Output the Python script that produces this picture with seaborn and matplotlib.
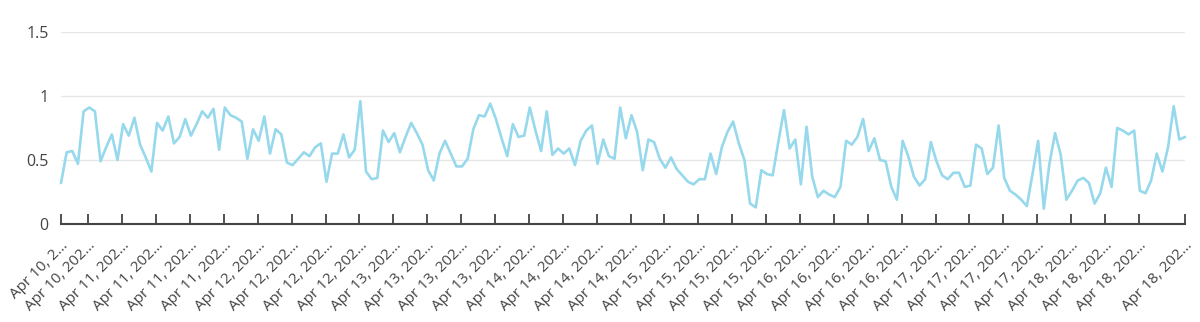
import matplotlib
matplotlib.use("Agg")
import matplotlib.pyplot as plt
import seaborn as sns
import pandas as pd

# hourly observations
start_time = "2024-04-10 13:10"
values = [
    0.32, 0.56, 0.57, 0.47, 0.88, 0.91, 0.88, 0.49, 0.60, 0.70,
    0.50, 0.78, 0.69, 0.83, 0.62, 0.52, 0.41, 0.79, 0.73, 0.84,
    0.63, 0.68, 0.82, 0.69, 0.78, 0.88, 0.83, 0.90, 0.58, 0.91,
    0.85, 0.83, 0.80, 0.51, 0.74, 0.65, 0.84, 0.55, 0.74, 0.70,
    0.48, 0.46, 0.51, 0.56, 0.53, 0.60, 0.63, 0.33, 0.55, 0.55,
    0.70, 0.52, 0.58, 0.96, 0.41, 0.35, 0.36, 0.73, 0.64, 0.71,
    0.56, 0.68, 0.79, 0.71, 0.62, 0.42, 0.34, 0.55, 0.65, 0.55,
    0.45, 0.45, 0.51, 0.74, 0.85, 0.84, 0.94, 0.82, 0.67, 0.53,
    0.78, 0.68, 0.69, 0.91, 0.73, 0.57, 0.88, 0.54, 0.59, 0.55,
    0.59, 0.46, 0.65, 0.73, 0.77, 0.47, 0.66, 0.53, 0.51, 0.91,
    0.67, 0.85, 0.72, 0.42, 0.66, 0.64, 0.51, 0.44, 0.52, 0.43,
    0.38, 0.33, 0.31, 0.35, 0.35, 0.55, 0.39, 0.60, 0.72, 0.80,
    0.63, 0.50, 0.16, 0.13, 0.42, 0.39, 0.38, 0.64, 0.89, 0.59,
    0.66, 0.31, 0.76, 0.37, 0.21, 0.26, 0.23, 0.21, 0.29, 0.65,
    0.62, 0.68, 0.82, 0.57, 0.67, 0.50, 0.49, 0.29, 0.19, 0.65,
    0.53, 0.37, 0.30, 0.35, 0.64, 0.49, 0.38, 0.35, 0.40, 0.40,
    0.29, 0.30, 0.62, 0.59, 0.39, 0.44, 0.77, 0.36, 0.26, 0.23,
    0.19, 0.14, 0.39, 0.65, 0.12, 0.47, 0.71, 0.54, 0.19, 0.26,
    0.34, 0.36, 0.32, 0.16, 0.24, 0.44, 0.29, 0.75, 0.73, 0.70,
    0.73, 0.26, 0.24, 0.34, 0.55, 0.41, 0.60, 0.92, 0.66, 0.68,
]

y_ticks = [0, 0.5, 1, 1.5]
y_tick_labels = ["0", "0.5", "1", "1.5"]

x_tick_labels = (
    ["Apr 10, 2\u2026", "Apr 10, 202\u2026"]
    + ["Apr 11, 202\u2026"] * 4
    + ["Apr 12, 202\u2026"] * 4
    + ["Apr 13, 202\u2026"] * 4
    + ["Apr 14, 202\u2026"] * 4
    + ["Apr 15, 202\u2026"] * 4
    + ["Apr 16, 202\u2026"] * 4
    + ["Apr 17, 202\u2026"] * 4
    + ["Apr 18, 202\u2026"] * 4
)

times = pd.date_range(start=start_time, periods=len(values), freq="h")
df = pd.DataFrame({"time": times, "value": values})

sns.set_theme(style="white")
plt.rcParams["font.family"] = ["Open Sans", "DejaVu Sans"]

fig = plt.figure(figsize=(12, 3.22), dpi=100)
ax = fig.add_axes([61 / 1200, 1 - 224 / 322, (1185 - 61) / 1200, (224 - 32) / 322])

sns.lineplot(data=df, x="time", y="value", ax=ax, color="#96d8ec",
             linewidth=1.9, clip_on=False)

ax.set_xlim(times[0], times[-1])
ax.set_ylim(0, 1.5)

ax.set_yticks(y_ticks)
ax.set_yticklabels(y_tick_labels)
ax.yaxis.grid(True, color="#e6e6e6", linewidth=1.0)
ax.set_axisbelow(True)

six_hour = list(pd.date_range("2024-04-10 18:00", "2024-04-18 12:00", freq="6h"))
x_ticks = [times[0]] + six_hour + [times[-1]]
ax.set_xticks(x_ticks)
ax.set_xticklabels(x_tick_labels, rotation=45, ha="right", va="top",
                   rotation_mode="anchor")

ax.set_xlabel("")
ax.set_ylabel("")

for s in ["top", "right", "left"]:
    ax.spines[s].set_visible(False)
ax.spines["bottom"].set_color("#444444")
ax.spines["bottom"].set_linewidth(1.5)
ax.spines["bottom"].set_zorder(5)

ax.tick_params(axis="x", bottom=True, direction="in", length=7, width=1.2,
               color="#333333", labelsize=11, labelcolor="#444444", pad=10)
ax.tick_params(axis="y", left=False, length=0, labelsize=11.5,
               labelcolor="#444444", pad=9)

fig.savefig("out.png", dpi=100)
